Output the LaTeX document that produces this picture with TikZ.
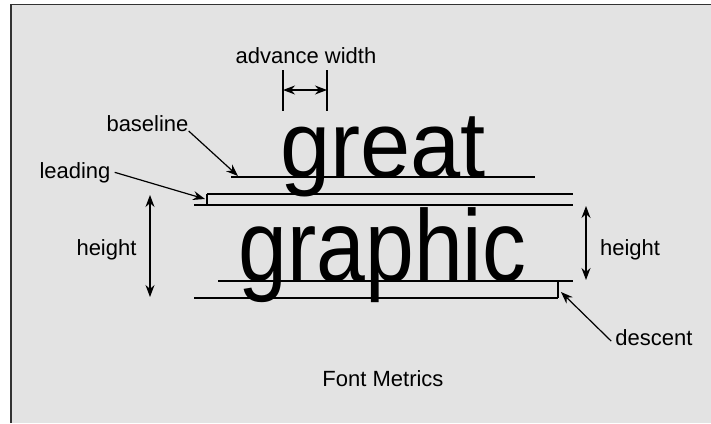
\documentclass[tikz,border=0pt]{standalone}
\usepackage{fontspec}
\setmainfont{Liberation Sans}
\newfontfamily\greatfont[FakeStretch=0.96]{Liberation Sans}
\newfontfamily\graphicfont[FakeStretch=0.86]{Liberation Sans}
\usetikzlibrary{arrows.meta,positioning,calc}
\definecolor{panelgray}{HTML}{E3E3E3}
\definecolor{framegray}{HTML}{333333}

\begin{document}
\begin{tikzpicture}[
    x=1pt, y=-1pt,
    lbl/.style={inner sep=0pt, anchor=base, font=\fontsize{22}{26}\selectfont},
    word/.style={inner sep=0pt, anchor=base},
    metric/.style={line width=1.2pt, draw=black},
    arrow/.style={-{Stealth[length=12pt, width=9pt]}, line width=1.2pt},
    dimarrow/.style={{Stealth[length=12pt, width=9pt]}-{Stealth[length=12pt, width=9pt]}, line width=1.2pt}
]
    \useasboundingbox (0,0) rectangle (711,423);
    \fill[white] (0,0) rectangle (711,423);
    \fill[panelgray] (10,4) rectangle (711,423);
    \draw[framegray, line width=1.5pt] (11,423) -- (11,4.5) -- (711,4.5);

    % the two sample lines
    \node[word, font=\greatfont\fontsize{94}{94}\selectfont] (great) at (383,177) {great};
    \node[word, font=\graphicfont\fontsize{102}{102}\selectfont] (graphic) at (382.5,281) {graphic};

    % metric lines
    \coordinate (base1w) at (231,177);  \coordinate (base1e) at (535,177);
    \coordinate (leadtw) at (207,194);  \coordinate (leadte) at (573,194);
    \coordinate (leadbw) at (194,205);  \coordinate (leadbe) at (573,205);
    \coordinate (leadtk) at (207,205);
    \coordinate (base2w) at (218,281);  \coordinate (base2e) at (573,281);
    \coordinate (descw) at (194,298);   \coordinate (desce) at (558,298);
    \coordinate (desctk) at (558,281);

    \draw[metric] (base1w) -- (base1e);
    \draw[metric] (leadtw) -- (leadte);
    \draw[metric] (leadbw) -- (leadbe);
    \draw[metric] (leadtw) -- (leadtk);
    \draw[metric] (base2w) -- (base2e);
    \draw[metric] (descw) -- (desce);
    \draw[metric] (desctk) -- (desce);

    % advance width
    \node[lbl] (advlbl) at (306,63) {advance width};
    \coordinate (advlt) at (283,70);  \coordinate (advlb) at (283,111);
    \coordinate (advrt) at (327,70);  \coordinate (advrb) at (327,111);
    \coordinate (advl) at (283,90);   \coordinate (advr) at (327,90);
    \draw[metric] (advlt) -- (advlb);
    \draw[metric] (advrt) -- (advrb);
    \draw[dimarrow] (advl) -- (advr);

    % labels with pointers
    \node[lbl] (baselbl) at (147.5,131) {baseline};
    \coordinate (basetip) at (238,176);
    \draw[arrow] (baselbl.base east) -- (basetip);

    \node[lbl] (leadlbl) at (75,178) {leading};
    \coordinate (leadtip) at (205,199);
    \draw[arrow] ([xshift=4pt]leadlbl.east) -- (leadtip);

    \node[lbl] (desclbl) at (654,345) {descent};
    \coordinate (desctip) at (561,292);
    \draw[arrow] ([xshift=-4pt,yshift=-4pt]desclbl.west) -- (desctip);

    % heights
    \node[lbl] (hleft) at (106.5,255) {height};
    \coordinate (hlt) at (150,195);  \coordinate (hlb) at (150,297);
    \draw[dimarrow] (hlt) -- (hlb);

    \node[lbl] (hright) at (630,255) {height};
    \coordinate (hrt) at (586,206);  \coordinate (hrb) at (586,280);
    \draw[dimarrow] (hrt) -- (hrb);

    \node[lbl] (caption) at (383,386) {Font Metrics};
\end{tikzpicture}
\end{document}
